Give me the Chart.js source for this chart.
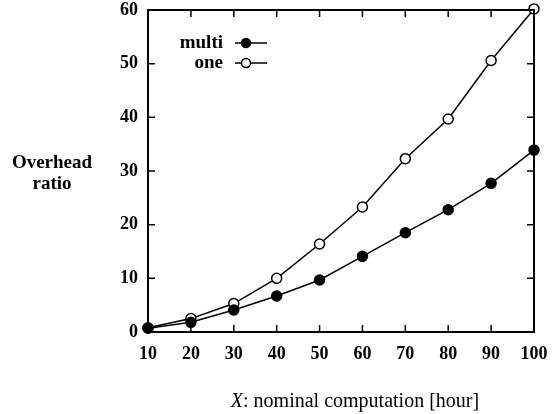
<!DOCTYPE html>
<html>
<head>
<meta charset="utf-8">
<script src="https://cdn.jsdelivr.net/npm/chart.js@4/dist/chart.umd.min.js"></script>
<style>
  html, body { margin: 0; padding: 0; background: #fff; }
  #wrap { position: relative; width: 559px; height: 414px; }
  #chart { position: absolute; left: 0; top: 0; }
  .lbl { position: absolute; font-family: "Liberation Serif", serif; color: #000; }
</style>
</head>
<body>
<div id="wrap">
  <canvas id="chart" width="559" height="414"></canvas>
  <div class="lbl" style="left:0;top:151px;width:104px;text-align:center;font-size:19px;font-weight:bold;line-height:21px">Overhead<br>ratio</div>
  <div class="lbl" style="left:156px;width:398px;top:389px;text-align:center;font-size:20px"><i>X</i>: nominal computation [hour]</div>
</div>
<script>
const hours = [10, 20, 30, 40, 50, 60, 70, 80, 90, 100];
const multiRatio = [0.7, 1.8, 4.1, 6.7, 9.7, 14.1, 18.5, 22.8, 27.7, 33.9];
const oneRatio = [0.8, 2.5, 5.3, 10.0, 16.4, 23.3, 32.3, 39.7, 50.6, 60.2];
const xTicks = [10, 20, 30, 40, 50, 60, 70, 80, 90, 100];
const yTicks = [0, 10, 20, 30, 40, 50, 60];

const toPoints = (vals) => hours.map((h, i) => ({ x: h, y: vals[i] }));

// frame with inward ticks on all four sides
const framePlugin = {
  id: "frame",
  afterDatasetsDraw(chart) {
    const { ctx, chartArea: a, scales } = chart;
    ctx.save();
    ctx.strokeStyle = "#000";
    ctx.lineWidth = 2;
    ctx.strokeRect(a.left, a.top, a.right - a.left, a.bottom - a.top);
    ctx.lineWidth = 1.5;
    ctx.beginPath();
    xTicks.forEach((v) => {
      const px = scales.x.getPixelForValue(v);
      ctx.moveTo(px, a.bottom); ctx.lineTo(px, a.bottom - 7);
      ctx.moveTo(px, a.top); ctx.lineTo(px, a.top + 7);
    });
    yTicks.forEach((v) => {
      const py = scales.y.getPixelForValue(v);
      ctx.moveTo(a.left, py); ctx.lineTo(a.left + 7, py);
      ctx.moveTo(a.right, py); ctx.lineTo(a.right - 7, py);
    });
    ctx.stroke();
    ctx.restore();
  },
};

// legend drawn inside the plot, top left
const legendPlugin = {
  id: "innerLegend",
  afterDraw(chart) {
    const { ctx, chartArea: a } = chart;
    ctx.save();
    ctx.font = "bold 19px 'Liberation Serif', serif";
    ctx.textAlign = "right";
    ctx.textBaseline = "middle";
    chart.data.datasets.forEach((ds, i) => {
      const y = a.top + 33 + i * 20;
      const textRight = a.left + 75;
      ctx.fillStyle = "#000";
      ctx.fillText(ds.label, textRight, y);
      ctx.strokeStyle = "#000";
      ctx.lineWidth = 1.5;
      ctx.beginPath();
      ctx.moveTo(textRight + 12, y);
      ctx.lineTo(textRight + 44, y);
      ctx.stroke();
      ctx.beginPath();
      ctx.arc(textRight + 23, y, 4.5, 0, Math.PI * 2);
      ctx.fillStyle = ds.pointBackgroundColor;
      ctx.fill();
      ctx.stroke();
    });
    ctx.restore();
  },
};

new Chart(document.getElementById("chart"), {
  type: "line",
  data: {
    datasets: [
      {
        label: "multi",
        data: toPoints(multiRatio),
        borderColor: "#000",
        borderWidth: 1.5,
        pointRadius: 5,
        pointBackgroundColor: "#000",
        pointBorderColor: "#000",
        pointBorderWidth: 1.5,
        clip: false,
      },
      {
        label: "one",
        data: toPoints(oneRatio),
        borderColor: "#000",
        borderWidth: 1.5,
        pointRadius: 5,
        pointBackgroundColor: "#fff",
        pointBorderColor: "#000",
        pointBorderWidth: 1.5,
        clip: false,
      },
    ],
  },
  options: {
    responsive: false,
    animation: false,
    devicePixelRatio: 1,
    layout: { padding: { left: 0, top: 10, right: 25, bottom: 0 } },
    plugins: { legend: { display: false }, tooltip: { enabled: false } },
    scales: {
      x: {
        type: "linear",
        min: 10,
        max: 100,
        afterFit: (s) => { s.height = 82; s.paddingLeft = 0; s.paddingRight = 0; },
        afterBuildTicks: (s) => { s.ticks = xTicks.map((v) => ({ value: v })); },
        ticks: {
          padding: 12,
          color: "#000",
          font: { family: "'Liberation Serif', serif", size: 18, weight: "bold" },
        },
        grid: { display: false, drawTicks: false },
        border: { display: false },
      },
      y: {
        min: 0,
        max: 60,
        afterFit: (s) => { s.width = 148; s.paddingTop = 0; s.paddingBottom = 0; },
        afterBuildTicks: (s) => { s.ticks = yTicks.map((v) => ({ value: v })); },
        ticks: {
          padding: 10,
          color: "#000",
          font: { family: "'Liberation Serif', serif", size: 18, weight: "bold" },
        },
        grid: { display: false, drawTicks: false },
        border: { display: false },
      },
    },
  },
  plugins: [framePlugin, legendPlugin],
});
</script>
</body>
</html>
